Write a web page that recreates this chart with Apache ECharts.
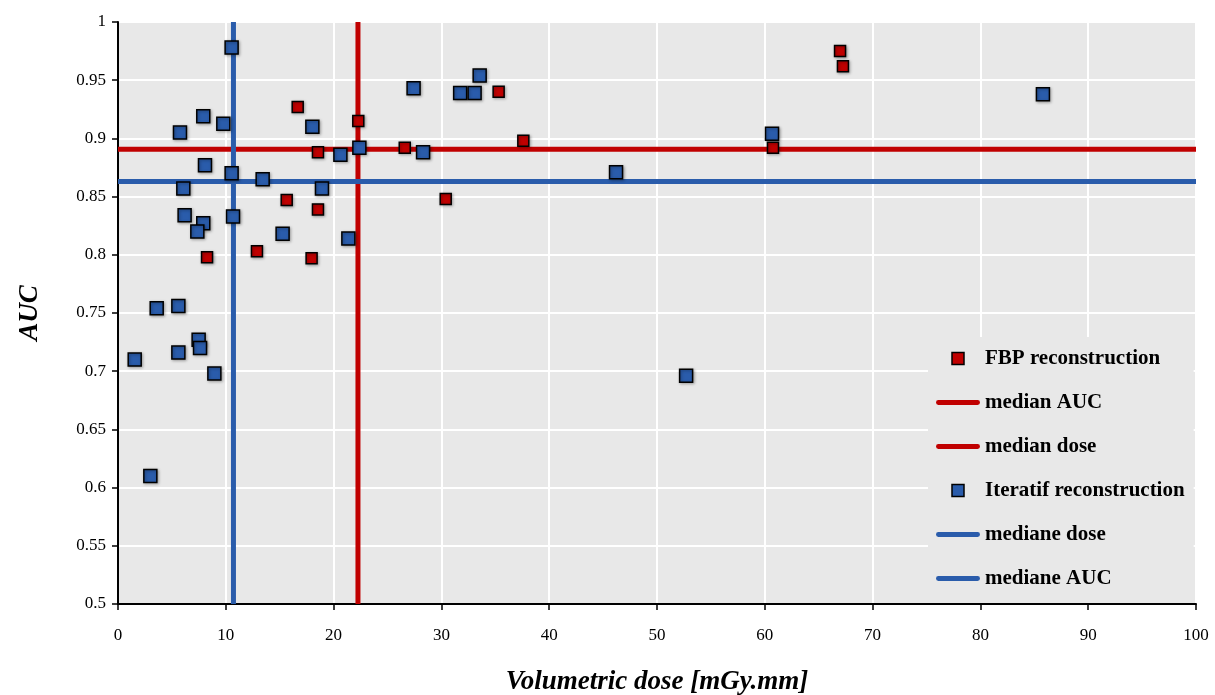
<!DOCTYPE html>
<html><head><meta charset="utf-8">
<script src="https://cdn.jsdelivr.net/npm/echarts@6/dist/echarts.min.js"></script>
<style>html,body{margin:0;padding:0;background:#fff}#c{width:1215px;height:695px}</style>
</head><body><div id="c"></div>
<script>
// FBP reconstruction points: dose, AUC
const fbpDose = [16.67, 22.29, 18.55, 15.65, 18.55, 8.26, 12.89, 17.96, 35.31, 37.6, 26.6, 30.4, 66.98, 67.25, 60.76];
const fbpAUC  = [0.927, 0.915, 0.888, 0.847, 0.839, 0.798, 0.803, 0.797, 0.940, 0.898, 0.892, 0.848, 0.975, 0.962, 0.892];
// Iteratif reconstruction points
const iterDose = [10.54, 5.75, 7.91, 9.77, 8.07, 10.54, 13.42, 6.06, 18.03, 20.63, 22.39, 18.92, 6.18, 10.67, 7.91, 7.36, 15.27, 21.37, 3.59, 5.60, 7.48, 7.61, 5.60, 1.55, 8.94, 3.0, 33.55, 27.42, 31.74, 33.08, 28.3, 85.8, 60.67, 46.2, 52.7];
const iterAUC  = [0.978, 0.905, 0.919, 0.9125, 0.877, 0.870, 0.865, 0.857, 0.910, 0.886, 0.892, 0.857, 0.834, 0.833, 0.827, 0.820, 0.818, 0.814, 0.754, 0.756, 0.727, 0.720, 0.716, 0.710, 0.698, 0.610, 0.954, 0.943, 0.939, 0.939, 0.888, 0.938, 0.904, 0.871, 0.696];
// medians
const fbpMedianAUC = 0.8907;
const fbpMedianDose = 22.26;
const iterMedianDose = 10.71;
const iterMedianAUC = 0.863;
// axes
const xRange = [0, 100];
const yRange = [0.5, 1];

const RED = '#c00000', BLUE = '#2a5cab';
const FONT = '"Liberation Serif", "DejaVu Serif", serif';
const zip = (a, b) => a.map((v, i) => [v, b[i]]);
const hLine = v => [[xRange[0], v], [xRange[1], v]];
const vLine = v => [[v, yRange[0]], [v, yRange[1]]];
const pointStyle = c => ({ color: c, opacity: 1, borderColor: '#000', borderWidth: 1.5, shadowBlur: 3, shadowColor: 'rgba(0,0,0,0.35)', shadowOffsetX: 1, shadowOffsetY: 1 });
const lineSeries = (name, data, c) => ({ name, type: 'line', data, symbol: 'none', z: 2, lineStyle: { color: c, width: 5 }, itemStyle: { color: c }, silent: true, animation: false });
const SQ = 'path://M0,0L10,0L10,10L0,10Z';
const BAR = 'path://M2,0L42,0A2,2 0 0 1 42,5L2,5A2,2 0 0 1 2,0Z';

const chart = echarts.init(document.getElementById('c'));
chart.setOption({
  animation: false,
  grid: { left: 118, right: 19, top: 22, bottom: 91, show: true, backgroundColor: '#e8e8e8', borderWidth: 0, outerBoundsMode: 'none', containLabel: false },
  xAxis: {
    type: 'value', min: xRange[0], max: xRange[1], interval: 10,
    name: 'Volumetric dose [mGy.mm]', nameLocation: 'middle', nameGap: 65,
    nameTextStyle: { fontFamily: FONT, fontStyle: 'italic', fontWeight: 'bold', fontSize: 27, color: '#000' },
    axisLine: { show: true, onZero: false, lineStyle: { color: '#000', width: 2 } },
    axisTick: { show: true, length: 6, lineStyle: { color: '#000', width: 1.5 } },
    axisLabel: { fontFamily: FONT, fontSize: 17, color: '#000', margin: 23 },
    splitLine: { show: true, lineStyle: { color: '#fff', width: 2 } }
  },
  yAxis: {
    type: 'value', min: yRange[0], max: yRange[1], interval: 0.05,
    name: 'AUC', nameLocation: 'middle', nameGap: 74, nameRotate: 90,
    nameTextStyle: { fontFamily: FONT, fontStyle: 'italic', fontWeight: 'bold', fontSize: 27, color: '#000' },
    axisLine: { show: true, onZero: false, lineStyle: { color: '#000', width: 2 } },
    axisTick: { show: true, length: 6, lineStyle: { color: '#000', width: 1.5 } },
    axisLabel: { fontFamily: FONT, fontSize: 17, color: '#000', margin: 12, formatter: v => String(+v.toFixed(2)) },
    splitLine: { show: true, lineStyle: { color: '#fff', width: 2 } }
  },
  legend: {
    orient: 'vertical', left: 928, top: 337, itemWidth: 44, itemHeight: 12, itemGap: 23,
    padding: [11, 9, 14, 8],
    textStyle: { fontFamily: FONT, fontWeight: 'bold', fontSize: 21, color: '#000' },
    data: [
      { name: 'FBP reconstruction', icon: SQ, itemStyle: { color: RED, borderColor: '#000', borderWidth: 1.5 } },
      { name: 'median AUC', icon: BAR, itemStyle: { color: RED } },
      { name: 'median dose', icon: BAR, itemStyle: { color: RED } },
      { name: 'Iteratif reconstruction', icon: SQ, itemStyle: { color: BLUE, borderColor: '#000', borderWidth: 1.5 } },
      { name: 'mediane dose', icon: BAR, itemStyle: { color: BLUE } },
      { name: 'mediane AUC', icon: BAR, itemStyle: { color: BLUE } }
    ],
    backgroundColor: '#e8e8e8'
  },
  series: [
    lineSeries('median AUC', hLine(fbpMedianAUC), RED),
    lineSeries('median dose', vLine(fbpMedianDose), RED),
    lineSeries('mediane dose', vLine(iterMedianDose), BLUE),
    lineSeries('mediane AUC', hLine(iterMedianAUC), BLUE),
    { name: 'FBP reconstruction', type: 'scatter', symbol: 'rect', symbolSize: 11, z: 5, data: zip(fbpDose, fbpAUC), itemStyle: pointStyle(RED) },
    { name: 'Iteratif reconstruction', type: 'scatter', symbol: 'rect', symbolSize: 13, z: 5, data: zip(iterDose, iterAUC), itemStyle: pointStyle(BLUE) }
  ]
});
</script></body></html>
